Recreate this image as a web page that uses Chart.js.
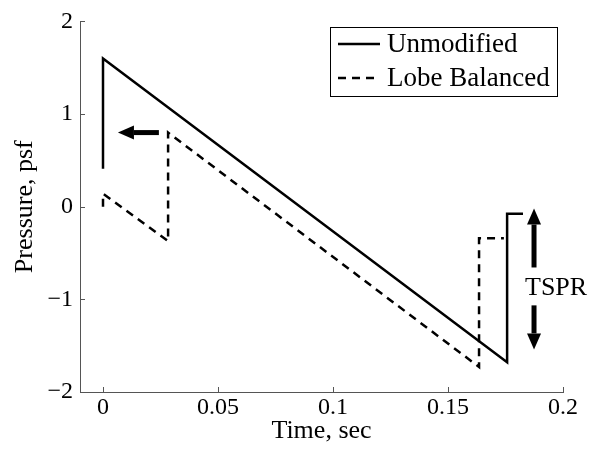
<!DOCTYPE html>
<html>
<head>
<meta charset="utf-8">
<script src="https://cdn.jsdelivr.net/npm/chart.js@4.4.0/dist/chart.umd.min.js"></script>
<style>
    html, body { margin: 0; padding: 0; background: #fff; }
</style>
</head>
<body>
<canvas id="myChart" width="590" height="451"></canvas>
<script>
'use strict';

// Unmodified signature (solid)
const unmodifiedX = [0, 0, 0.1757, 0.1757, 0.1826];
const unmodifiedY = [0.41, 1.60, -1.68, -0.075, -0.075];

// Lobe balanced signature (dashed)
const lobeX = [0, 0, 0.0283, 0.0283, 0.1635, 0.1635, 0.1743];
const lobeY = [0.0, 0.14, -0.37, 0.80, -1.73, -0.34, -0.34];

const seriesLabels = ['Unmodified', 'Lobe Balanced'];
const xTicks = [0, 0.05, 0.1, 0.15, 0.2];
const yTicks = [-2, -1, 0, 1, 2];

// annotation arrows, [tailX, tailY, tipX, tipY] in data units
const shiftArrow = [0.0243, 0.80, 0.0065, 0.80];
const tsprArrows = [
    [0.1874, -0.656, 0.1874, -0.02],
    [0.1874, -1.065, 0.1874, -1.54],
];
const tsprLabel = { text: 'TSPR', x: 0.197, y: -0.88 };

const serif = "'Liberation Serif', 'Times New Roman', serif";
const axisColor = '#555';

function toPoints(xs, ys) {
    return xs.map((x, i) => ({ x: x, y: ys[i] }));
}

function fmt(v) {
    return v < 0 ? '\u2212' + Math.abs(v) : String(v);
}

function drawArrow(ctx, x0, y0, x1, y1) {
    let ang = Math.atan2(y1 - y0, x1 - x0);
    let headLen = 16, headHalf = 7;
    let bx = x1 - headLen * Math.cos(ang);
    let by = y1 - headLen * Math.sin(ang);
    ctx.lineWidth = 5;
    ctx.beginPath();
    ctx.moveTo(x0, y0);
    ctx.lineTo(bx, by);
    ctx.stroke();
    ctx.beginPath();
    ctx.moveTo(x1, y1);
    ctx.lineTo(bx + headHalf * Math.sin(ang), by - headHalf * Math.cos(ang));
    ctx.lineTo(bx - headHalf * Math.sin(ang), by + headHalf * Math.cos(ang));
    ctx.closePath();
    ctx.fill();
}

// inward ticks, annotations and the boxed legend
const overlay = {
    id: 'overlay',
    afterDatasetsDraw(chart) {
        const { ctx, chartArea: area, scales: { x, y } } = chart;
        ctx.save();

        ctx.strokeStyle = axisColor;
        ctx.lineWidth = 1;
        ctx.beginPath();
        xTicks.forEach(v => {
            let px = Math.round(x.getPixelForValue(v)) + 0.5;
            ctx.moveTo(px, area.bottom);
            ctx.lineTo(px, area.bottom - 5);
        });
        yTicks.forEach(v => {
            let py = Math.round(y.getPixelForValue(v)) + 0.5;
            ctx.moveTo(area.left, py);
            ctx.lineTo(area.left + 5, py);
        });
        ctx.stroke();

        ctx.strokeStyle = '#000';
        ctx.fillStyle = '#000';
        [shiftArrow].concat(tsprArrows).forEach(a => {
            drawArrow(ctx, x.getPixelForValue(a[0]), y.getPixelForValue(a[1]),
                x.getPixelForValue(a[2]), y.getPixelForValue(a[3]));
        });

        ctx.font = '26px ' + serif;
        ctx.textAlign = 'center';
        ctx.textBaseline = 'middle';
        ctx.fillText(tsprLabel.text, x.getPixelForValue(tsprLabel.x), y.getPixelForValue(tsprLabel.y));

        // legend
        let boxL = 330, boxT = 27, boxR = area.right - 6, boxB = 96;
        ctx.fillStyle = '#fff';
        ctx.fillRect(boxL, boxT, boxR - boxL, boxB - boxT);
        ctx.strokeStyle = '#000';
        ctx.lineWidth = 1;
        ctx.strokeRect(boxL + 0.5, boxT + 0.5, boxR - boxL, boxB - boxT);
        let rows = [44, 78];
        ctx.font = '27px ' + serif;
        ctx.textAlign = 'left';
        ctx.fillStyle = '#000';
        seriesLabels.forEach((lab, i) => {
            ctx.lineWidth = 2.5;
            ctx.setLineDash(i === 0 ? [] : [8, 6]);
            ctx.beginPath();
            ctx.moveTo(338, rows[i]);
            ctx.lineTo(380, rows[i]);
            ctx.stroke();
            ctx.setLineDash([]);
            ctx.fillText(lab, 387, rows[i] + 1);
        });

        ctx.restore();
    }
};

let ctx = document.getElementById('myChart').getContext('2d');
let myChart = new Chart(ctx, {
    type: 'line',
    data: {
        datasets: [
            {
                label: seriesLabels[0],
                data: toPoints(unmodifiedX, unmodifiedY),
                borderColor: '#000',
                borderWidth: 2.5,
                fill: false,
            }, {
                label: seriesLabels[1],
                data: toPoints(lobeX, lobeY),
                borderColor: '#000',
                borderWidth: 2.5,
                borderDash: [8, 6],
                fill: false,
            }
        ]
    },
    options: {
        responsive: false,
        animation: false,
        elements: {
            point: { radius: 0, hoverRadius: 0 },
            line: { tension: 0, borderJoinStyle: 'miter', borderCapStyle: 'butt' },
        },
        layout: { padding: { top: 20, right: 27, left: 0, bottom: 0 } },
        plugins: {
            legend: { display: false },
            tooltip: { enabled: false },
        },
        scales: {
            x: {
                type: 'linear',
                min: -0.01,
                max: 0.2,
                afterBuildTicks: s => { s.ticks = xTicks.map(v => ({ value: v })); },
                afterFit: s => { s.height = 59; },
                grid: { display: false, drawTicks: false },
                border: { display: true, color: axisColor, width: 1 },
                ticks: {
                    color: '#000',
                    padding: 1,
                    maxRotation: 0,
                    font: { family: serif, size: 24 },
                    callback: v => fmt(v),
                },
                title: {
                    display: true,
                    text: 'Time, sec',
                    color: '#000',
                    padding: { top: 0, bottom: 4 },
                    font: { family: serif, size: 26 },
                },
            },
            y: {
                min: -2,
                max: 2,
                afterBuildTicks: s => { s.ticks = yTicks.map(v => ({ value: v })); },
                afterFit: s => { s.width = 80; },
                grid: { display: false, drawTicks: false },
                border: { display: true, color: axisColor, width: 1 },
                ticks: {
                    color: '#000',
                    padding: 7,
                    font: { family: serif, size: 24 },
                    callback: v => fmt(v),
                },
                title: {
                    display: true,
                    text: 'Pressure, psf',
                    color: '#000',
                    padding: { top: 10, bottom: 0 },
                    font: { family: serif, size: 26 },
                },
            }
        }
    },
    plugins: [overlay],
});
</script>
</body>
</html>
